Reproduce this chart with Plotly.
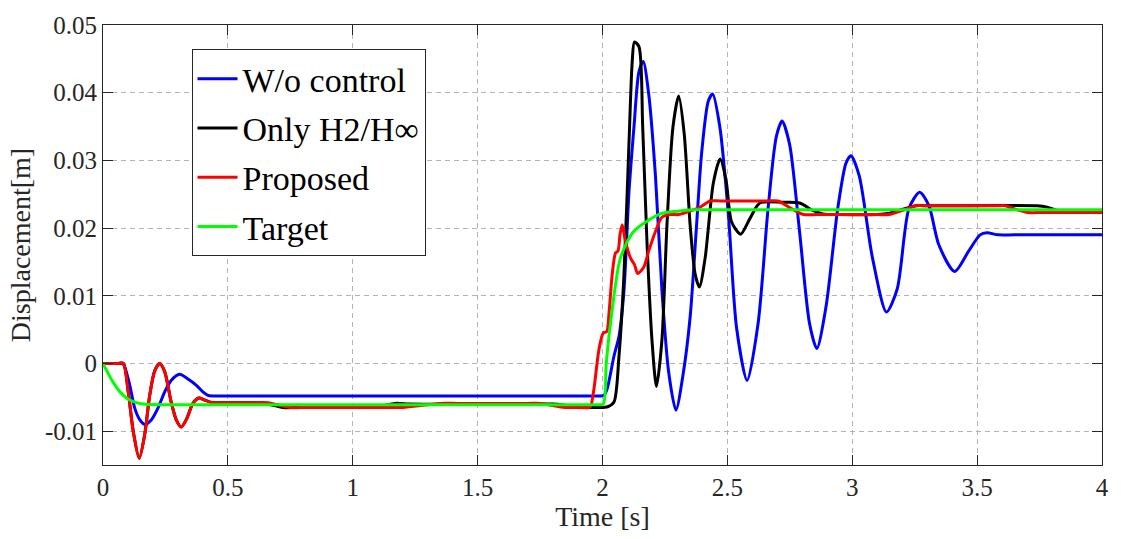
import plotly.graph_objects as go

# ---------------- data ----------------
t_wo = [0, 0.06, 0.08, 0.107, 0.127, 0.147, 0.167, 0.194, 0.220, 0.247, 0.273, 0.307, 0.340, 0.373, 0.400, 0.420,
        0.44, 0.47, 1.0, 1.5, 1.95, 1.99, 2.006, 2.019, 2.046, 2.066, 2.086, 2.106, 2.126, 2.146, 2.163, 2.185,
        2.212, 2.238, 2.265, 2.294, 2.324, 2.351, 2.375, 2.397, 2.424, 2.441, 2.470, 2.504, 2.537, 2.579,
        2.623, 2.663, 2.696, 2.719, 2.749, 2.789, 2.829, 2.858, 2.895, 2.942, 2.975, 2.995, 3.028, 3.081,
        3.137, 3.180, 3.227, 3.270, 3.307, 3.347, 3.410, 3.466, 3.512, 3.539, 3.585, 3.65, 4.0]
v_wo = [0, 0, 0, -0.0032, -0.0066, -0.0083, -0.0090, -0.0083, -0.0066, -0.0042, -0.0025, -0.0016, -0.0023,
        -0.0032, -0.0042, -0.0047, -0.0048, -0.0048, -0.0048, -0.0048, -0.0048, -0.0048, -0.0047, -0.0037,
        0.0011, 0.0040, 0.0108, 0.0253, 0.0349, 0.0431, 0.0446, 0.0398, 0.0277, 0.0108, -0.0013, -0.0069,
        -0.0013, 0.0069, 0.0195, 0.0311, 0.0388, 0.0398, 0.0349, 0.0220, 0.0052, -0.0025, 0.0059, 0.0229,
        0.0335, 0.0358, 0.0324, 0.0195, 0.0059, 0.0022, 0.0084, 0.0229, 0.0296, 0.0307, 0.0277, 0.0156,
        0.0076, 0.0110, 0.0229, 0.0253, 0.0233, 0.0175, 0.0136, 0.0166, 0.0190, 0.0193, 0.0190, 0.0190, 0.0190]

t_h2 = [0, 0.06, 0.081, 0.101, 0.121, 0.145, 0.167, 0.187, 0.207, 0.227, 0.247, 0.273, 0.293, 0.313, 0.336,
        0.360, 0.384, 0.406, 0.439, 0.47, 0.60, 0.65, 0.72, 0.78, 1.05, 1.10, 1.17, 1.23, 1.80, 1.86, 1.93,
        1.98, 2.021, 2.046, 2.066, 2.086, 2.106, 2.119, 2.128, 2.146, 2.161, 2.178, 2.198, 2.216, 2.238,
        2.258, 2.282, 2.305, 2.327, 2.351, 2.371, 2.388, 2.411, 2.444, 2.471, 2.495, 2.517, 2.553, 2.590,
        2.630, 2.723, 2.789, 2.842, 2.882, 2.95, 3.10, 3.15, 3.254, 3.30, 3.74, 3.78, 3.84, 3.90, 4.0]
v_h2 = [0, 0, 0, -0.0042, -0.0100, -0.0140, -0.0105, -0.0047, -0.0011, 0, -0.0012, -0.0057, -0.0083, -0.0094,
        -0.0081, -0.0059, -0.0051, -0.0054, -0.0058, -0.0058, -0.0058, -0.0059, -0.0065, -0.0065, -0.0065,
        -0.0064, -0.0059, -0.0060, -0.0060, -0.0062, -0.0065, -0.0065, -0.0064, -0.0057, 0.0011, 0.0132,
        0.0325, 0.0446, 0.0475, 0.0468, 0.0349, 0.0180, 0.0035, -0.0034, 0.0035, 0.0204, 0.0349, 0.0395,
        0.0340, 0.0204, 0.0132, 0.0113, 0.0156, 0.0267, 0.0302, 0.0270, 0.0209, 0.0191, 0.0214, 0.0237,
        0.0238, 0.0237, 0.0226, 0.0221, 0.0220, 0.0220, 0.0222, 0.0233, 0.0233, 0.0233, 0.0231, 0.0224,
        0.0224, 0.0224]

t_prop = [0, 0.06, 0.081, 0.101, 0.121, 0.145, 0.167, 0.187, 0.207, 0.227, 0.247, 0.273, 0.293, 0.313, 0.336,
          0.360, 0.384, 0.406, 0.439, 0.47, 0.60, 0.66, 0.75, 0.82, 1.15, 1.20, 1.35, 1.42, 1.70, 1.75,
          1.85, 1.90, 1.945, 1.953, 1.966, 1.986, 2.003, 2.017, 2.026, 2.039, 2.052, 2.062, 2.070, 2.079,
          2.092, 2.112, 2.128, 2.141, 2.165, 2.185, 2.212, 2.238, 2.271, 2.305, 2.364, 2.391, 2.431, 2.47,
          2.65, 2.703, 2.75, 2.805, 2.86, 3.10, 3.147, 3.20, 3.254, 3.30, 3.58, 3.612, 3.66, 3.704, 3.76, 4.0]
v_prop = [0, 0, 0, -0.0042, -0.0100, -0.0140, -0.0105, -0.0047, -0.0011, 0, -0.0012, -0.0057, -0.0083, -0.0094,
          -0.0081, -0.0059, -0.0051, -0.0054, -0.0058, -0.0058, -0.0058, -0.0058, -0.0065, -0.0065, -0.0065,
          -0.0065, -0.0059, -0.0059, -0.0059, -0.0059, -0.0065, -0.0065, -0.0065, -0.0063, -0.0037, 0.0021,
          0.0045, 0.0047, 0.0074, 0.0132, 0.0163, 0.0166, 0.0190, 0.0205, 0.0180, 0.0156, 0.0146, 0.0133,
          0.0142, 0.0166, 0.0195, 0.0216, 0.0220, 0.0220, 0.0227, 0.0231, 0.0240, 0.0240, 0.0240, 0.0240,
          0.0230, 0.0220, 0.0220, 0.0220, 0.0220, 0.0226, 0.0233, 0.0233, 0.0233, 0.0233, 0.0227, 0.0223,
          0.0223, 0.0223]

t_tgt = [0, 0.021, 0.041, 0.068, 0.107, 0.161, 0.254, 0.35, 1.0, 1.9, 1.98, 2.003, 2.015, 2.032, 2.072,
         2.125, 2.231, 2.30, 2.364, 2.45, 3.0, 4.0]
v_tgt = [0, -0.0015, -0.0028, -0.0042, -0.0054, -0.0060, -0.0061, -0.0061, -0.0061, -0.0061, -0.0061, -0.0060,
         0.0000, 0.0059, 0.0156, 0.0195, 0.0221, 0.0225, 0.0227, 0.0227, 0.0227, 0.0227]

x_ticks = [0, 0.5, 1, 1.5, 2, 2.5, 3, 3.5, 4]
x_ticktext = ["0", "0.5", "1", "1.5", "2", "2.5", "3", "3.5", "4"]
y_ticks = [-0.01, 0, 0.01, 0.02, 0.03, 0.04, 0.05]
y_ticktext = ["-0.01", "0", "0.01", "0.02", "0.03", "0.04", "0.05"]

series = [
    ("W/o control", t_wo, v_wo, "#0000FF"),
    ("Only H2/H\u221e", t_h2, v_h2, "#000000"),
    ("Proposed", t_prop, v_prop, "#FF0000"),
    ("Target", t_tgt, v_tgt, "#00FF00"),
]

FONT = "Liberation Serif"
AX = "#262626"

fig = go.Figure()
for i, (name, t, v, c) in enumerate(series):
    fig.add_trace(go.Scatter(x=t, y=v, mode="lines", name=name, legendgroup=f"g{i}",
                             line=dict(color=c, width=3, shape="spline", smoothing=0.75)))

axis_common = dict(showline=True, linecolor=AX, linewidth=1, mirror="ticks", ticks="inside", ticklen=10,
                   tickcolor=AX, showgrid=True, gridcolor="#b4b4b4", griddash="5px,4px", gridwidth=1,
                   zeroline=False, tickfont=dict(family=FONT, size=25, color=AX))

fig.update_xaxes(range=[0, 4], tickvals=x_ticks, ticktext=x_ticktext,
                 title=dict(text="Time [s]", font=dict(family=FONT, size=28, color=AX), standoff=2),
                 **axis_common)
fig.update_yaxes(range=[-0.015, 0.05], tickvals=y_ticks, ticktext=y_ticktext,
                 title=dict(text="Displacement[m]", font=dict(family=FONT, size=28, color=AX), standoff=6),
                 **axis_common)

fig.update_layout(
    width=1121, height=539,
    margin=dict(l=103, r=13, t=16, b=74),
    paper_bgcolor="white", plot_bgcolor="white",
    showlegend=True,
    legend=dict(x=0.0886, y=0.945, xanchor="left", yanchor="top", bgcolor="white",
                bordercolor=AX, borderwidth=1, tracegroupgap=2, itemwidth=40,
                font=dict(family=FONT, size=34, color="#000000")),
)

fig.write_html("out.html")
